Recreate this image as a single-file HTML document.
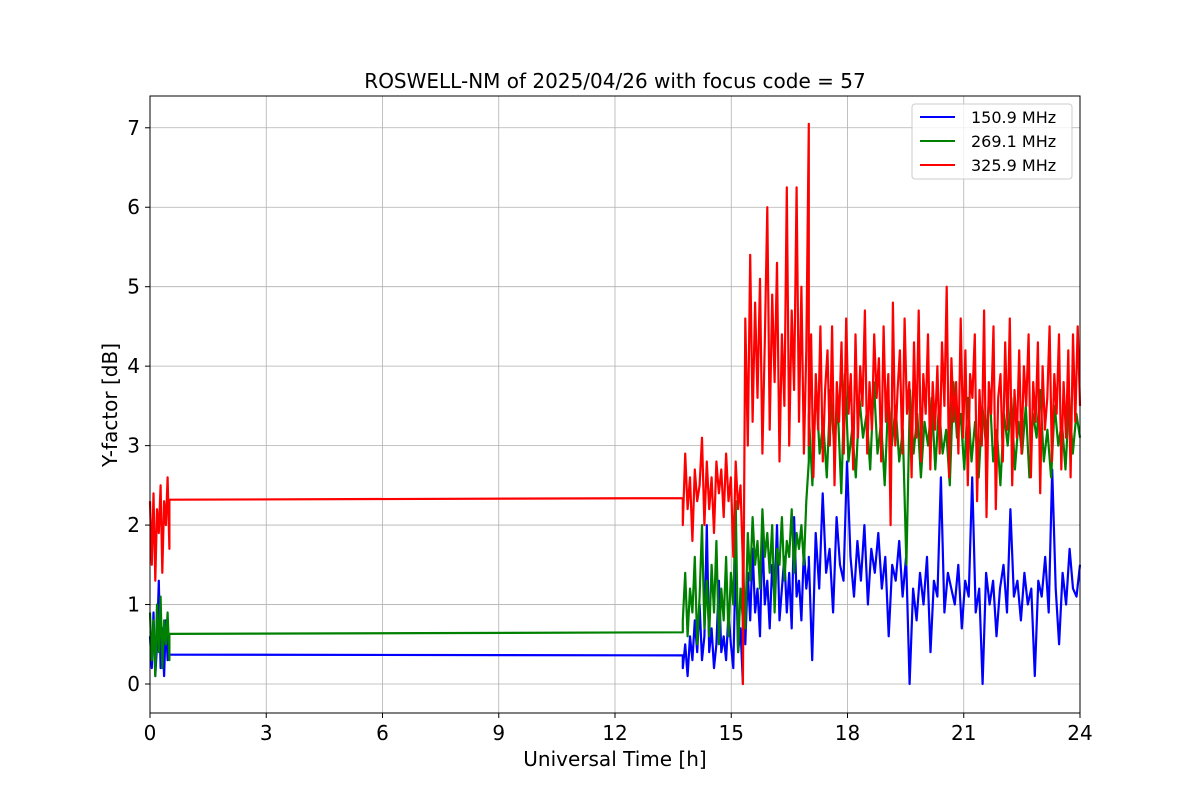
<!DOCTYPE html>
<html><head><meta charset="utf-8"><style>
html,body{margin:0;padding:0;background:#fff;}
svg text{font-family:"DejaVu Sans","Liberation Sans",sans-serif;}
</style></head><body>
<svg id="chart" width="1200" height="800" xmlns="http://www.w3.org/2000/svg"></svg>
<script>
const xTicks=[0,3,6,9,12,15,18,21,24];
const yTicks=[0,1,2,3,4,5,6,7];
const seriesNames=["150.9 MHz","269.1 MHz","325.9 MHz"];
const seriesColors=["#0000ff","#008000","#ff0000"];
// segments: [t0, t1, values]
const blueSegs=[
 [0,0.5,[0.6,0.2,0.9,0.1,0.5,1.3,0.2,0.7,0.1,0.8,0.3,0.6]],
 [0.5,13.75,[0.37,0.36]],
 [13.75,15.3,[0.2,0.5,0.1,0.6,0.3,0.8,0.4,1.0,0.3,0.6,2.0,0.4,0.7,0.2,0.5,1.3,0.4,0.6,0.3,0.9,0.5,0.2,1.6,0.4,0.7,0.0]],
 [15.3,17,[1.0,0.5,1.4,0.8,1.7,0.9,1.2,0.6,1.9,1.0,1.3,0.7,1.5,1.1,2.0,0.8,1.2,1.6,0.9,1.4,0.7,2.1,1.1,1.3,0.8,1.7,1.2,1.5]],
 [17,24,[1.6,0.3,1.9,1.2,2.4,1.4,1.7,0.9,2.1,1.5,1.3,2.8,1.6,1.1,1.8,1.3,2.0,1.0,1.7,1.4,1.9,1.2,1.6,0.6,1.5,1.3,1.8,1.1,1.6,0.0,1.2,0.8,1.4,1.0,1.6,0.4,1.3,1.1,2.6,0.9,1.4,1.2,1.0,1.5,0.7,1.3,1.1,2.6,0.9,1.2,0.0,1.4,1.0,1.3,0.6,1.2,1.5,0.9,2.2,1.1,1.3,0.8,1.4,1.0,1.2,0.1,1.3,1.1,1.6,0.9,2.7,1.2,0.5,1.4,1.0,1.7,1.2,1.1,1.5]]
];
const greenSegs=[
 [0,0.5,[0.9,0.3,0.8,0.1,1.0,0.4,1.1,0.2,0.8,0.5,0.9,0.3]],
 [0.5,13.75,[0.63,0.65]],
 [13.75,15.3,[0.8,1.4,0.6,1.2,0.9,1.6,0.5,1.1,2.0,0.7,1.3,0.6,1.5,0.9,1.8,0.5,1.2,0.8,1.6,0.6,1.4,1.0,2.3,0.4,1.2,0.8]],
 [15.3,17,[1.6,0.7,1.9,1.3,2.1,1.5,1.8,1.2,2.2,1.6,1.9,1.4,2.0,0.9,1.7,1.5,2.1,1.3,1.8,1.6,2.2,1.4,1.9,1.7,2.0,1.5,2.3,2.8]],
 [17,24,[3.4,2.5,3.8,2.9,3.3,2.6,3.7,3.0,3.5,2.4,3.9,2.8,3.2,2.6,3.6,3.1,3.4,2.7,3.8,2.9,3.3,2.5,3.6,3.0,3.5,2.8,3.2,1.5,3.7,2.9,3.4,2.6,3.3,3.0,3.6,2.7,3.5,2.9,3.2,2.5,3.8,3.1,3.4,2.7,3.6,2.8,3.3,2.6,3.5,3.0,3.7,2.8,3.2,2.5,3.4,3.0,3.6,2.7,3.3,2.9,3.5,2.6,3.4,3.1,3.7,2.8,3.2,2.6,3.5,3.0,3.3,2.7,3.6,2.9,3.4,3.1]]
];
const redSegs=[
 [0,0.5,[2.3,1.5,2.4,1.3,2.2,1.9,2.5,1.4,2.3,2.0,2.6,1.7]],
 [0.5,13.75,[2.32,2.34]],
 [13.75,15.3,[2.0,2.9,2.2,2.6,1.8,2.7,2.3,2.5,3.1,2.0,2.8,2.2,2.6,1.9,2.8,2.4,2.7,2.1,2.9,2.3,2.6,1.6,2.8,2.2,2.5,1.5]],
 [15.3,17,[0.0,4.6,3.0,5.4,3.3,4.8,3.6,5.1,2.9,4.3,6.0,3.2,4.9,3.8,5.3,2.8,4.4,3.5,6.25,3.0,4.7,3.7,6.25,3.3,5.0,2.9,4.2,7.05]],
 [17,24,[3.0,4.4,2.6,3.9,3.2,4.5,2.8,3.7,4.2,3.0,4.5,2.5,3.8,3.3,4.3,2.9,4.6,3.4,3.9,2.7,4.4,3.1,4.0,3.5,4.7,2.9,3.8,3.2,4.4,3.6,4.1,2.8,4.5,3.3,3.9,2.0,4.8,3.0,3.7,4.2,2.9,4.6,3.4,3.8,2.6,4.3,3.1,4.7,2.8,3.9,3.4,4.4,2.7,3.8,3.2,4.0,2.9,4.3,3.5,5.0,2.6,4.1,3.3,3.8,2.9,4.6,3.1,4.2,2.5,3.9,3.6,4.4,2.3,3.7,3.0,4.7,2.1,3.8,3.4,4.5,2.2,3.6,3.9,2.8,4.3,3.2,4.6,2.5,3.7,3.1,4.2,2.9,4.0,3.5,4.4,2.6,3.8,3.3,4.3,2.4,4.0,3.2,3.6,4.5,2.8,3.9,3.4,4.4,2.7,3.8,3.1,4.2,2.6,4.4,3.3,4.5,3.5]]
];
const allSegs=[blueSegs,greenSegs,redSegs];

const NS="http://www.w3.org/2000/svg";
const svg=document.getElementById('chart');
const L=150,R=1080,T=96,B=713,xMin=0,xMax=24,yMin=-0.365,yMax=7.4;
const xs=v=>L+(v-xMin)/(xMax-xMin)*(R-L);
const ys=v=>B-(v-yMin)/(yMax-yMin)*(B-T);
function mk(tag,attrs,parent){const e=document.createElementNS(NS,tag);for(const k in attrs)e.setAttribute(k,attrs[k]);(parent||svg).appendChild(e);return e;}

const grid=mk('g',{});


xTicks.forEach(t=>{mk('line',{x1:xs(t),x2:xs(t),y1:T,y2:B,stroke:'#b0b0b0','stroke-width':0.8},grid);});
yTicks.forEach(t=>{mk('line',{x1:L,x2:R,y1:ys(t),y2:ys(t),stroke:'#b0b0b0','stroke-width':0.8},grid);});

allSegs.forEach((segs,si)=>{
  let pts=[];
  segs.forEach(([t0,t1,vals])=>{
    vals.forEach((v,i)=>{const t=t0+(t1-t0)*i/(vals.length-1);pts.push(xs(t).toFixed(1)+','+ys(v).toFixed(1));});
  });
  const p=mk('polyline',{points:pts.join(' '),fill:'none',stroke:seriesColors[si],'stroke-width':2.2,'stroke-linejoin':'round'});
  
  
});

const frame=mk('rect',{x:L,y:T,width:R-L,height:B-T,fill:'none',stroke:'#000','stroke-width':1});



xTicks.forEach(t=>{
  mk('line',{x1:xs(t),x2:xs(t),y1:B,y2:B+5,stroke:'#000'});
  const tx=mk('text',{x:xs(t),y:B+27,'text-anchor':'middle','font-size':20});
  tx.textContent=t;
  
  
});
yTicks.forEach(t=>{
  mk('line',{x1:L-5,x2:L,y1:ys(t),y2:ys(t),stroke:'#000'});
  const tx=mk('text',{x:L-10,y:ys(t)+7,'text-anchor':'end','font-size':20});
  tx.textContent=t;
  
  
});

const title=mk('text',{x:615,y:88,'text-anchor':'middle','font-size':20});
title.textContent='ROSWELL-NM of 2025/04/26 with focus code = 57';


const xl=mk('text',{x:615,y:766,'text-anchor':'middle','font-size':20});
xl.textContent='Universal Time [h]';


const yl=mk('text',{x:117,y:405,'text-anchor':'middle','font-size':20,transform:'rotate(-90 117 405)'});
yl.textContent='Y-factor [dB]';



const lg=mk('g',{});


mk('rect',{x:912,y:104,width:160,height:75,rx:3,fill:'#fff','fill-opacity':0.8,stroke:'#ccc'},lg);
seriesNames.forEach((n,i)=>{
  const y=117+i*24;
  mk('line',{x1:920,x2:955,y1:y,y2:y,stroke:seriesColors[i],'stroke-width':2},lg);
  const tx=mk('text',{x:971,y:y+6,'font-size':16},lg);
  tx.textContent=n;
  
  
});
</script>
</body></html>
